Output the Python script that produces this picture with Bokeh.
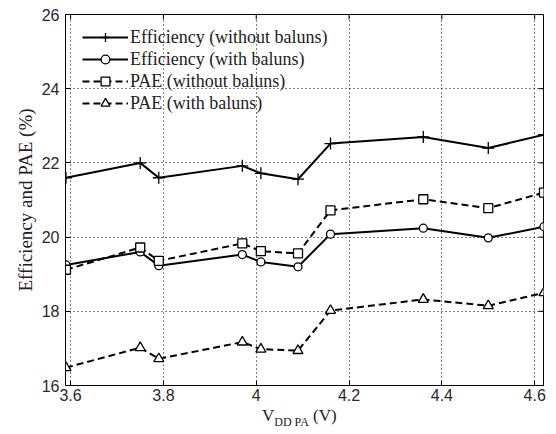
from bokeh.plotting import figure
from bokeh.models import Legend, LegendItem, Range1d, FixedTicker, Div
from bokeh.layouts import column
from bokeh.embed import file_html
from bokeh.resources import INLINE

vdd = [3.59, 3.75, 3.79, 3.97, 4.01, 4.09, 4.16, 4.36, 4.50, 4.62]
eff_without = [21.6, 22.0, 21.6, 21.92, 21.72, 21.56, 22.52, 22.7, 22.4, 22.76]
eff_with = [19.25, 19.6, 19.23, 19.53, 19.33, 19.2, 20.08, 20.24, 19.98, 20.28]
pae_without = [19.12, 19.72, 19.36, 19.83, 19.62, 19.56, 20.72, 21.02, 20.78, 21.2]
pae_with = [16.48, 17.02, 16.72, 17.17, 16.98, 16.94, 18.02, 18.32, 18.15, 18.5]

x_ticks = [3.6, 3.8, 4.0, 4.2, 4.4, 4.6]
x_tick_labels = {3.6: "3.6", 3.8: "3.8", 4.0: "4", 4.2: "4.2", 4.4: "4.4", 4.6: "4.6"}
y_ticks = [16, 18, 20, 22, 24, 26]
x_lo, x_hi = 3.589, 4.619
y_lo, y_hi = 16, 26

p = figure(width=554, height=406, output_backend="svg", toolbar_location=None,
           x_range=Range1d(x_lo, x_hi), y_range=Range1d(y_lo, y_hi),
           min_border_left=65, min_border_right=11, min_border_top=14, min_border_bottom=21)
p.outline_line_color = "black"
p.outline_line_width = 1
p.background_fill_color = "white"

for ax in (p.xaxis[0], p.yaxis[0]):
    ax.major_tick_in = 5
    ax.major_tick_out = 0
    ax.minor_tick_in = 0
    ax.minor_tick_out = 0
    ax.axis_line_color = "black"
    ax.major_tick_line_color = "black"
    ax.major_label_text_font = "Liberation Sans"
    ax.major_label_text_font_size = "16px"
    ax.major_label_text_color = "#2a2a2a"
p.xaxis[0].ticker = FixedTicker(ticks=x_ticks)
p.xaxis[0].major_label_overrides = x_tick_labels
p.yaxis[0].ticker = FixedTicker(ticks=y_ticks)
p.xaxis[0].major_label_standoff = 3
p.yaxis[0].major_label_standoff = 6

p.yaxis[0].axis_label = "Efficiency and PAE (%)"
p.yaxis[0].axis_label_text_font = "Liberation Serif"
p.yaxis[0].axis_label_text_font_size = "19px"
p.yaxis[0].axis_label_text_font_style = "normal"
p.yaxis[0].axis_label_text_color = "#222222"
p.yaxis[0].axis_label_standoff = 3

for g in (p.xgrid[0], p.ygrid[0]):
    g.grid_line_color = "black"
    g.grid_line_dash = "1 3"
    g.grid_line_width = 1
p.xgrid[0].ticker = FixedTicker(ticks=x_ticks)
p.ygrid[0].ticker = FixedTicker(ticks=y_ticks)

# inward ticks on the top and right edges of the box (half of each dash is clipped)
p.scatter(x_ticks, [y_hi] * len(x_ticks), marker="dash", size=10, angle=1.5708,
          line_color="black", line_width=1)
p.scatter([x_hi] * len(y_ticks), y_ticks, marker="dash", size=10,
          line_color="black", line_width=1)

items = []
specs = [
    (eff_without, "solid", "cross", "Efficiency (without baluns)", 12),
    (eff_with, "solid", "circle", "Efficiency (with baluns)", 8),
    (pae_without, "7 4", "square", "PAE (without baluns)", 9),
    (pae_with, "7 4", "triangle", "PAE (with baluns)", 10),
]
for ys, dash, marker, label, size in specs:
    l = p.line(vdd, ys, line_color="black", line_width=2, line_dash=dash)
    s = p.scatter(vdd, ys, marker=marker, size=size, line_color="black", line_width=1.3,
                  fill_color="white" if marker != "cross" else None)
    items.append(LegendItem(label=label, renderers=[l, s]))

legend = Legend(items=items, location=(12, 266), background_fill_alpha=0, border_line_alpha=0,
                label_text_font="Liberation Serif", label_text_font_size="18px",
                label_text_color="#222222",
                glyph_width=46, glyph_height=22, spacing=0, padding=5, margin=0,
                label_standoff=2)
p.add_layout(legend, "center")

xlabel = Div(
    text=('<div style="padding-left:262px; padding-top:1px; line-height:18px; '
          'font-family:\'Liberation Serif\'; font-size:17px; color:#222; white-space:nowrap;">'
          'V<sub style="font-size:12px; vertical-align:-5px;">DD PA</sub> (V)</div>'),
    width=554, height=26, margin=0)

layout = column(p, xlabel, spacing=0)
open("out.html", "w").write(file_html(layout, INLINE))
